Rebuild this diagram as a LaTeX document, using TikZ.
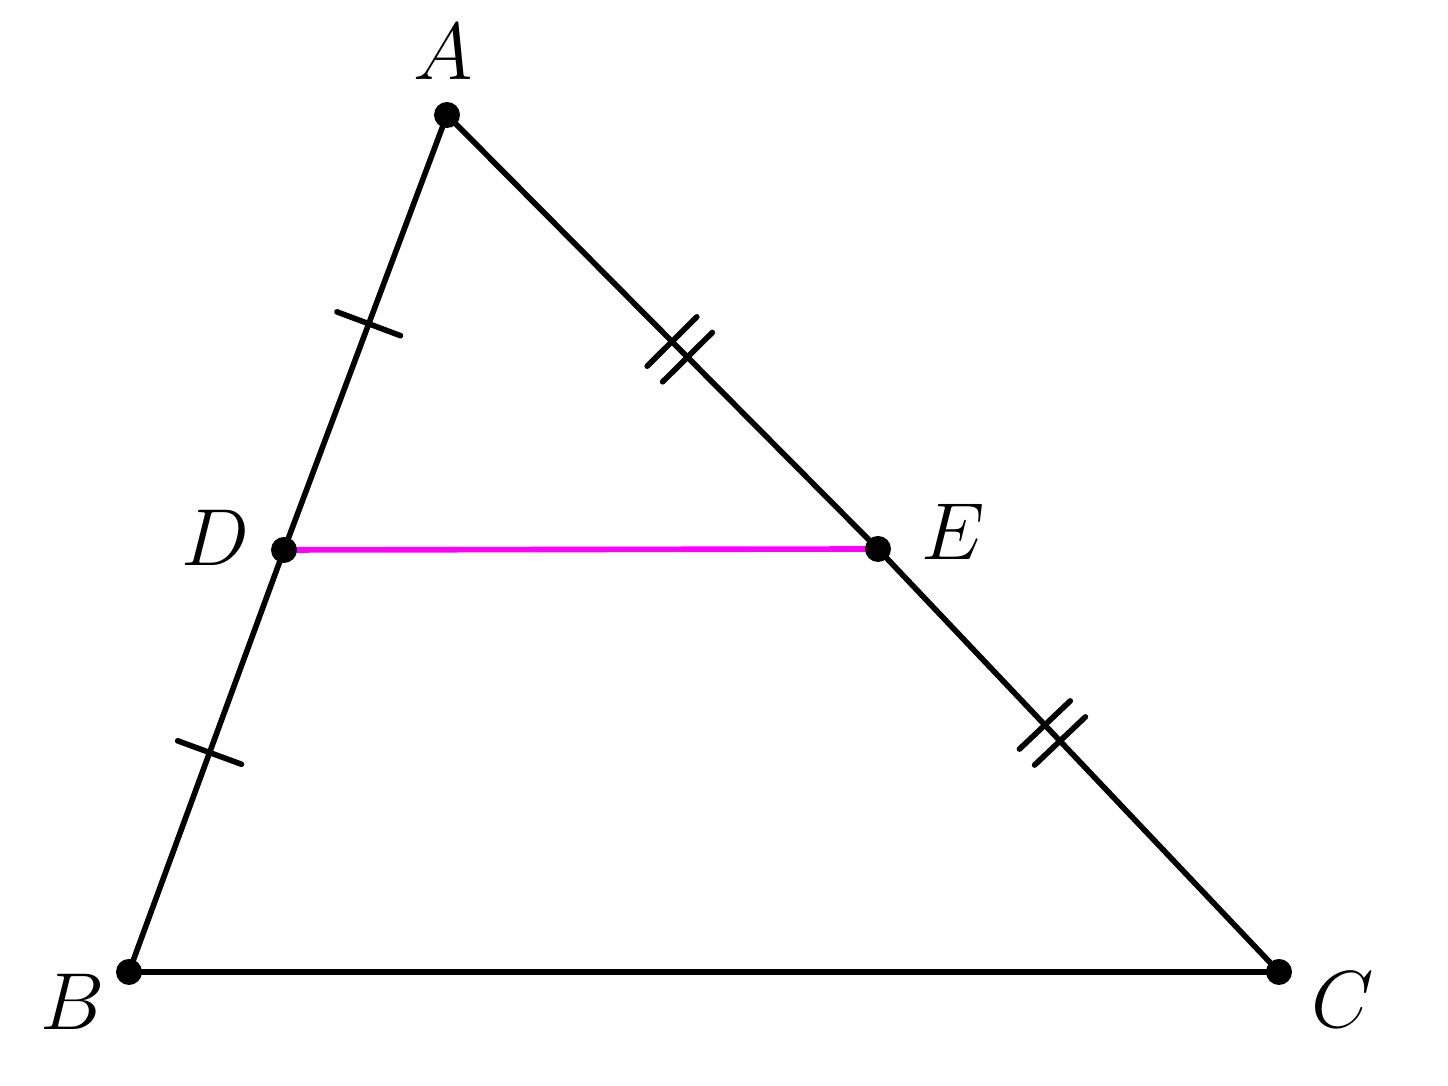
\documentclass[tikz,border=0pt]{standalone}
\usepackage{fix-cm}
\usetikzlibrary{calc}

\definecolor{midcol}{RGB}{255,0,255}

\tikzset{
    side/.style={line width=1.6pt, line cap=round, line join=round},
    dot/.style={circle, fill=black, inner sep=0pt, minimum size=0.26cm},
    lbl/.style={font=\fontsize{23}{28}\selectfont},
}

\begin{document}
\begin{tikzpicture}

    \useasboundingbox (0,0) rectangle (14.48,10.86);

    % points
    \coordinate (A) at (4.47,9.71);
    \coordinate (B) at (1.29,1.14);
    \coordinate (C) at (12.79,1.14);
    \coordinate (D) at (2.84,5.36);
    \coordinate (E) at (8.78,5.37);

    % midline
    \draw[side, midcol] (D) -- (E);

    % triangle
    \draw[side] (A) -- (D) -- (B) -- (C) -- (E) -- cycle;

    % single ticks
    \draw[side] ($(A)!.48!(D)!.34cm!90:(D)$) -- ($(A)!.48!(D)!.34cm!-90:(D)$);
    \draw[side] ($(D)!.48!(B)!.34cm!90:(B)$) -- ($(D)!.48!(B)!.34cm!-90:(B)$);

    % double ticks
    \draw[side] ($(A)!.54!(E)!.11cm!(E)!.35cm!90:(E)$) -- ($(A)!.54!(E)!.11cm!(E)!.35cm!-90:(E)$);
    \draw[side] ($(A)!.54!(E)!-.11cm!(E)!.35cm!90:(E)$) -- ($(A)!.54!(E)!-.11cm!(E)!.35cm!-90:(E)$);
    \draw[side] ($(E)!.435!(C)!.11cm!(C)!.35cm!90:(C)$) -- ($(E)!.435!(C)!.11cm!(C)!.35cm!-90:(C)$);
    \draw[side] ($(E)!.435!(C)!-.11cm!(C)!.35cm!90:(C)$) -- ($(E)!.435!(C)!-.11cm!(C)!.35cm!-90:(C)$);

    % dots
    \foreach \p in {A,B,C,D,E}
        \node[dot] (d\p) at (\p) {};

    % labels
    \node[lbl] (lA) at (4.43,10.34) {$A$};
    \node[lbl] (lB) at (0.73,0.84) {$B$};
    \node[lbl] (lC) at (13.43,0.86) {$C$};
    \node[lbl] (lD) at (2.15,5.48) {$D$};
    \node[lbl] (lE) at (9.53,5.54) {$E$};

\end{tikzpicture}
\end{document}
